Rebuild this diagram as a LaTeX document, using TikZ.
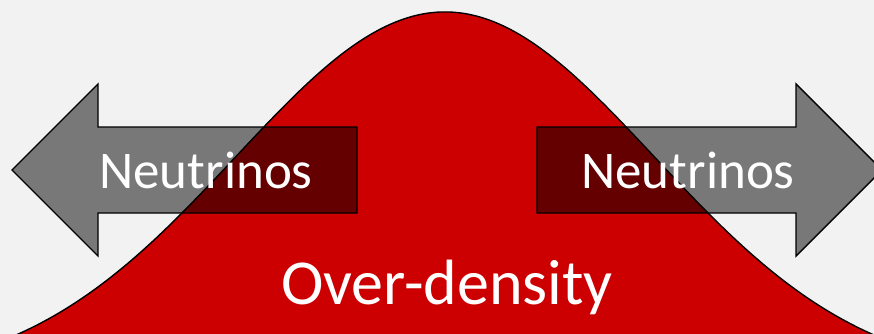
\documentclass[tikz,border=0pt]{standalone}
\usepackage{fontspec}
\setmainfont{Carlito}
\definecolor{bgc}{HTML}{F2F2F2}
\definecolor{redc}{HTML}{CC0000}
\tikzset{
  arrowshape/.style={fill=black, fill opacity=0.5, draw=black, draw opacity=1, line width=1.4pt, line join=miter},
  labeltext/.style={text=white, inner sep=0pt, anchor=base, font=\fontsize{53}{60}\selectfont},
  bigtext/.style={text=white, inner sep=0pt, anchor=base, font=\fontsize{64}{72}\selectfont},
}
\begin{document}
\begin{tikzpicture}[x=1pt,y=-1pt]
\useasboundingbox (0,0) rectangle (874,334);
\fill[bgc] (0,0) rectangle (874,334);
\begin{scope}
\clip (0,0) rectangle (874,334);
\draw[black, fill=redc, line width=1.4pt] plot[domain=-5:5, samples=201, smooth] ({445+100*\x},{380-368*exp(-\x*\x/8.7556)});
\node[bigtext] (over) at (447,304) {Over-density};
\draw[arrowshape] (12,170) -- (98,84) -- (98,127) -- (357,127) -- (357,213) -- (98,213) -- (98,256) -- cycle;
\draw[arrowshape] (537,127) -- (796,127) -- (796,84) -- (882,170) -- (796,256) -- (796,213) -- (537,213) -- cycle;
\node[labeltext] (nl) at (206,188) {Neutrinos};
\node[labeltext] (nr) at (688,188) {Neutrinos};
\end{scope}
\end{tikzpicture}
\end{document}
